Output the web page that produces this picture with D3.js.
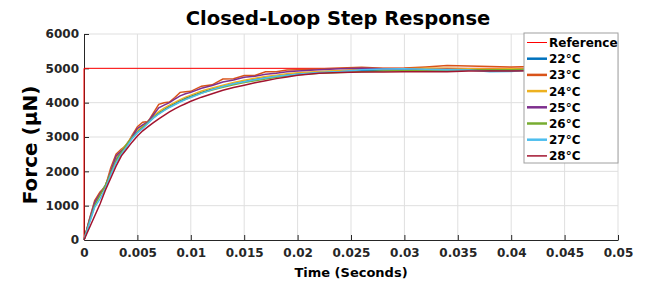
<!DOCTYPE html>
<html>
<head>
<meta charset="utf-8">
<script src="https://cdn.jsdelivr.net/npm/d3@7"></script>
<style>
  body { margin: 0; background: #fff; }
  text { font-family: "DejaVu Sans", sans-serif; font-weight: bold; }
</style>
</head>
<body>
<script>
// time samples (seconds)
let time = [0, 0.0005, 0.001, 0.0015, 0.002, 0.0025, 0.003, 0.0035, 0.004, 0.0045,
  0.005, 0.0055, 0.006, 0.0065, 0.007, 0.0075, 0.008, 0.0085, 0.009, 0.0095,
  0.01, 0.011, 0.012, 0.013, 0.014, 0.015, 0.016, 0.017, 0.018, 0.019,
  0.02, 0.022, 0.024, 0.026, 0.028, 0.03, 0.032, 0.034, 0.036, 0.038, 0.04, 0.042]

// reference step
let refTime = [0, 0, 0.05]
let refForce = [0, 5000, 5000]

let labels = ['22°C', '23°C', '24°C', '25°C', '26°C', '27°C', '28°C']
let colors = ['#0072BD', '#D95319', '#EDB120', '#7E2F8E', '#77AC30', '#4DBEEE', '#A2142F']

let f22 = [0, 550, 1050, 1350, 1600, 1950, 2350, 2600, 2800, 3000,
  3150, 3300, 3450, 3600, 3700, 3800, 3900, 3980, 4060, 4130,
  4190, 4300, 4400, 4480, 4560, 4620, 4680, 4730, 4770, 4810,
  4840, 4890, 4920, 4940, 4950, 4960, 4960, 4950, 4960, 4940, 4930, 4950]
let f23 = [0, 600, 1150, 1400, 1550, 2100, 2500, 2650, 2750, 3050,
  3300, 3430, 3450, 3700, 3950, 4000, 4020, 4150, 4300, 4320,
  4330, 4480, 4520, 4690, 4700, 4790, 4790, 4900, 4900, 4950,
  4960, 4980, 5010, 5030, 5000, 5010, 5040, 5080, 5070, 5050, 5040, 5050]
let f24 = [0, 560, 1080, 1330, 1580, 2000, 2400, 2620, 2800, 3020,
  3200, 3330, 3470, 3620, 3740, 3840, 3930, 4010, 4090, 4160,
  4220, 4340, 4430, 4510, 4590, 4650, 4710, 4760, 4800, 4840,
  4870, 4910, 4940, 4970, 4980, 4990, 5000, 5000, 4990, 4980, 4990, 4980]
let f25 = [0, 580, 1100, 1350, 1550, 2000, 2450, 2600, 2750, 3000,
  3250, 3350, 3450, 3650, 3850, 3930, 4000, 4100, 4200, 4260,
  4300, 4420, 4500, 4600, 4660, 4740, 4770, 4830, 4860, 4900,
  4920, 4960, 4990, 5000, 4990, 4980, 4960, 4970, 4960, 4950, 4960, 4950]
let f26 = [0, 520, 1000, 1300, 1580, 1950, 2300, 2550, 2780, 2980,
  3130, 3280, 3420, 3560, 3680, 3780, 3870, 3950, 4030, 4100,
  4160, 4280, 4370, 4450, 4520, 4590, 4640, 4690, 4740, 4780,
  4810, 4860, 4880, 4900, 4920, 4940, 4950, 4960, 4950, 4960, 4960, 4970]
let f27 = [0, 480, 950, 1200, 1500, 1900, 2250, 2500, 2720, 2950,
  3120, 3250, 3400, 3550, 3670, 3770, 3860, 3940, 4020, 4090,
  4150, 4270, 4380, 4470, 4550, 4610, 4670, 4720, 4770, 4800,
  4830, 4880, 4910, 4960, 4980, 4990, 4970, 4960, 4950, 4900, 4910, 4960]
let f28 = [0, 350, 700, 1050, 1450, 1800, 2150, 2450, 2650, 2850,
  3030, 3180, 3300, 3420, 3530, 3630, 3730, 3820, 3900, 3970,
  4040, 4160, 4260, 4360, 4440, 4510, 4580, 4640, 4700, 4750,
  4800, 4860, 4880, 4890, 4890, 4900, 4900, 4900, 4920, 4920, 4920, 4930]
let series = [f22, f23, f24, f25, f26, f27, f28]

let xTicks = [0, 0.005, 0.01, 0.015, 0.02, 0.025, 0.03, 0.035, 0.04, 0.045, 0.05]
let yTicks = [0, 1000, 2000, 3000, 4000, 5000, 6000]

let width = 645, height = 286
let margin = { top: 34, right: 27, bottom: 46, left: 84 }

let svg = d3.select('body').append('svg')
  .attr('width', width)
  .attr('height', height)

let xscale = d3.scaleLinear()
  .domain([0, 0.05])
  .range([margin.left, width - margin.right])

let yscale = d3.scaleLinear()
  .domain([0, 6000])
  .range([height - margin.bottom, margin.top])

// grid
svg.append('g').selectAll('line').data(xTicks.slice(1)).join('line')
  .attr('x1', d => xscale(d)).attr('x2', d => xscale(d))
  .attr('y1', yscale(0)).attr('y2', yscale(6000))
  .attr('stroke', '#dfdfdf')
svg.append('g').selectAll('line').data(yTicks.slice(1)).join('line')
  .attr('x1', xscale(0)).attr('x2', xscale(0.05))
  .attr('y1', d => yscale(d)).attr('y2', d => yscale(d))
  .attr('stroke', '#dfdfdf')

// axes (ticks inward, matlab style)
let xaxis = svg.append('g')
  .attr('transform', `translate(0,${yscale(0)})`)
  .call(d3.axisBottom(xscale).tickValues(xTicks).tickFormat(d => String(+d.toFixed(3))).tickSizeInner(-5).tickSizeOuter(0).tickPadding(8))
let yaxis = svg.append('g')
  .attr('transform', `translate(${xscale(0)},0)`)
  .call(d3.axisLeft(yscale).tickValues(yTicks).tickFormat(d => String(d)).tickSizeInner(-5).tickSizeOuter(0).tickPadding(5))

for (let ax of [xaxis, yaxis]) {
  ax.select('.domain').attr('stroke', '#262626')
  ax.selectAll('.tick line').attr('stroke', '#262626')
  ax.selectAll('.tick text').attr('fill', '#262626')
    .style('font-size', '12px').style('font-family', '"DejaVu Sans", sans-serif').style('font-weight', 'bold')
}

// lines
let line = d3.line()
  .x((d, i) => xscale(time[i]))
  .y(d => yscale(d))

svg.append('path')
  .datum(refForce)
  .attr('d', d3.line().x((d, i) => xscale(refTime[i])).y(d => yscale(d)))
  .attr('fill', 'none')
  .attr('stroke', '#ff0000')
  .attr('stroke-width', 1)

series.forEach((s, i) => {
  svg.append('path')
    .datum(s)
    .attr('d', line)
    .attr('fill', 'none')
    .attr('stroke', colors[i])
    .attr('stroke-width', 1.5)
})

// titles
svg.append('text')
  .text('Closed-Loop Step Response')
  .attr('x', 338)
  .attr('y', 25)
  .attr('text-anchor', 'middle')
  .style('font-size', '19.5px')
  .attr('fill', '#000')

svg.append('text')
  .text('Time (Seconds)')
  .attr('x', (xscale(0) + xscale(0.05)) / 2)
  .attr('y', 277)
  .attr('text-anchor', 'middle')
  .style('font-size', '13px')

svg.append('text')
  .text('Force (µN)')
  .attr('x', -145)
  .attr('y', 37)
  .attr('text-anchor', 'middle')
  .attr('transform', 'rotate(-90)')
  .style('font-size', '20px')

// legend
let lg = svg.append('g').attr('transform', 'translate(524,33)')
lg.append('rect')
  .attr('width', 94).attr('height', 130)
  .attr('fill', '#fff').attr('stroke', '#a0a0a0')
let legendNames = ['Reference'].concat(labels)
let legendColors = ['#ff0000'].concat(colors)
legendNames.forEach((n, i) => {
  let y = 9.5 + i * 16.2
  lg.append('line')
    .attr('x1', 3).attr('x2', 23).attr('y1', y).attr('y2', y)
    .attr('stroke', legendColors[i])
    .attr('stroke-width', i == 0 ? 1 : (i == 7 ? 1.5 : 2.5))
  lg.append('text')
    .text(n)
    .attr('x', 25).attr('y', y + 4.5)
    .style('font-size', '12px')
    .attr('fill', '#000')
})
</script>
</body>
</html>
